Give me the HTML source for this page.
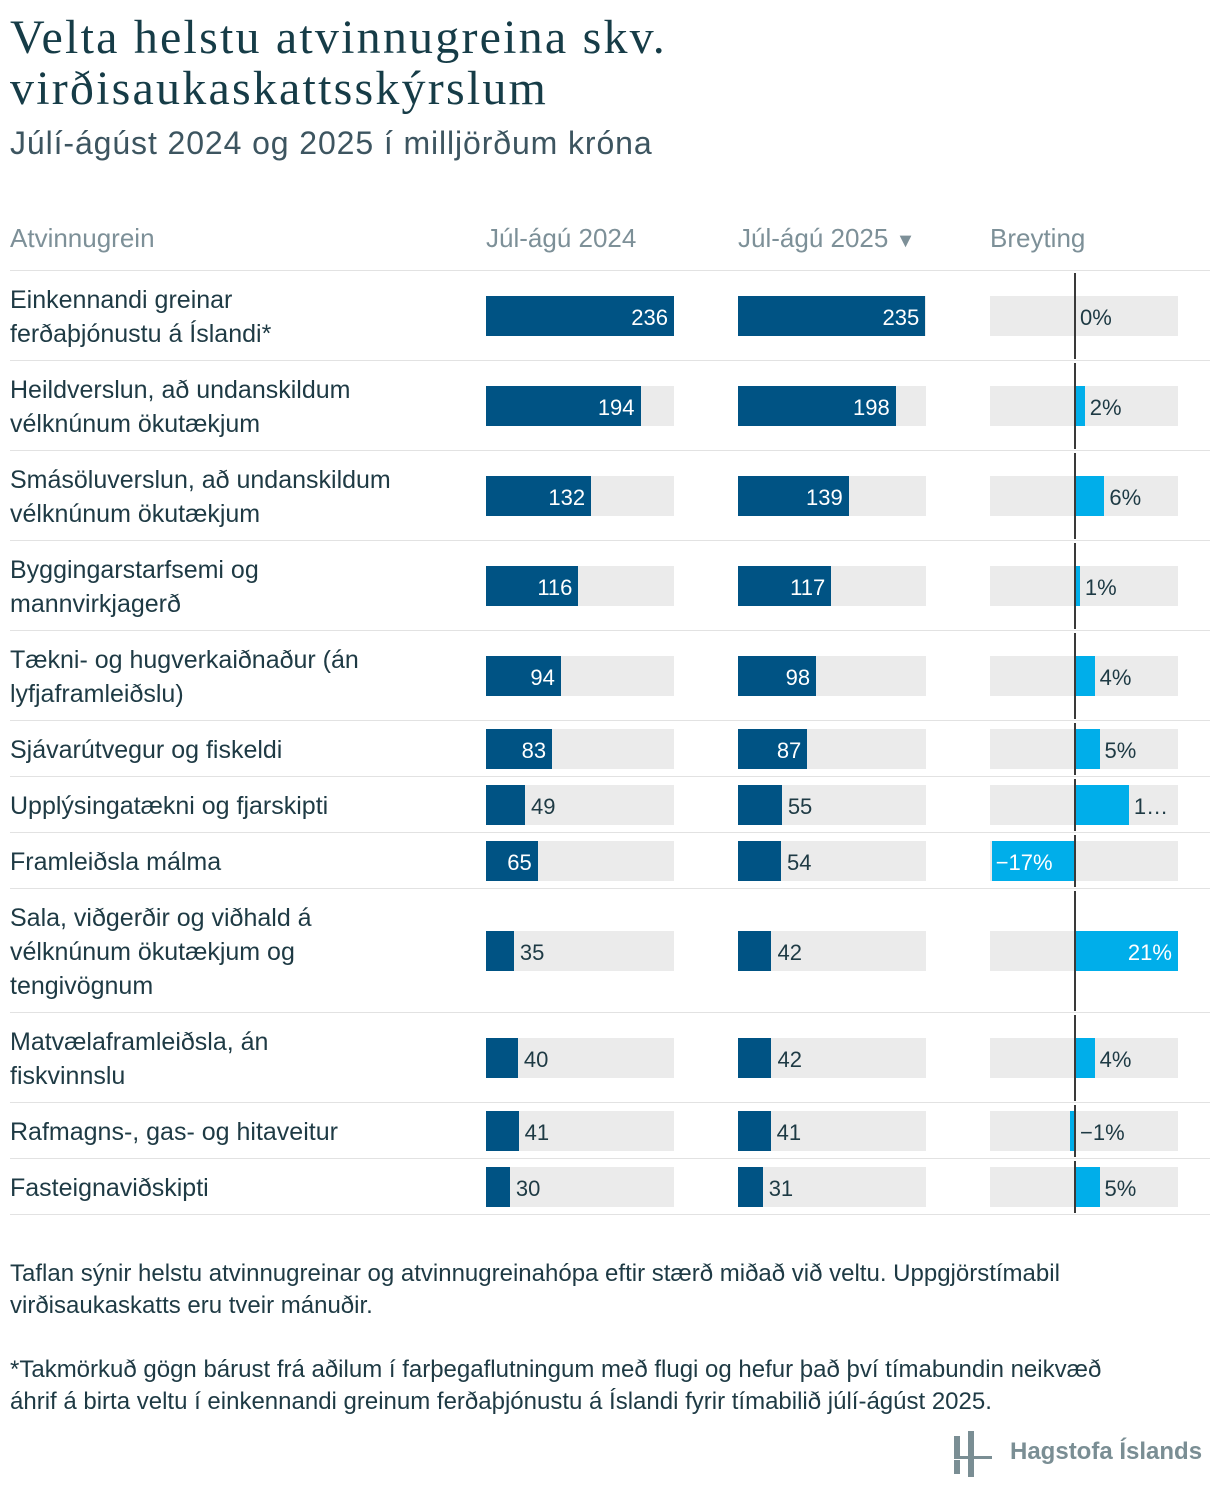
<!DOCTYPE html>
<html><head><meta charset="utf-8"><style>
body{margin:0;background:#fff;width:1220px;height:1502px;overflow:hidden;font-family:"Liberation Sans",sans-serif;color:#1e3a44;position:relative}
.abs{position:absolute}
h1{position:absolute;left:10px;top:12px;margin:0;font-family:"Liberation Serif",serif;font-weight:normal;font-size:48px;line-height:51px;letter-spacing:2.2px;color:#163c47}
.sub{left:10px;top:125px;font-size:32px;color:#3d5560;letter-spacing:0.9px}
.hd{top:223px;font-size:26px;color:#7d9098}
.lbl{left:10px;font-size:25px;line-height:34px;color:#1e3a44;width:440px}
.val{font-size:22px;line-height:40px;margin-top:2px}
.foot{left:10px;font-size:24px;line-height:32px;width:1200px;color:#1e3a44;white-space:nowrap}
</style></head><body>
<h1>Velta helstu atvinnugreina skv.<br>virðisaukaskattsskýrslum</h1>
<div class="abs sub">Júlí-ágúst 2024 og 2025 í milljörðum króna</div>
<div class="abs hd" style="left:10px">Atvinnugrein</div>
<div class="abs hd" style="left:486px">Júl-ágú 2024</div>
<div class="abs hd" style="left:738px">Júl-ágú 2025 <span style="font-size:20px">▼</span></div>
<div class="abs hd" style="left:990px">Breyting</div>
<div class="abs" style="left:10px;top:270px;width:1200px;height:1px;background:#e2e2e2"></div>
<div id="rows"></div>
<div class="abs foot" style="top:1258px">Taflan sýnir helstu atvinnugreinar og atvinnugreinahópa eftir stærð miðað við veltu. Uppgjörstímabil<br>virðisaukaskatts eru tveir mánuðir.</div>
<div class="abs foot" style="top:1354px">*Takmörkuð gögn bárust frá aðilum í farþegaflutningum með flugi og hefur það því tímabundin neikvæð<br>áhrif á birta veltu í einkennandi greinum ferðaþjónustu á Íslandi fyrir tímabilið júlí-ágúst 2025.</div>
<div class="abs" style="left:952px;top:1426px;width:42px;height:52px">
<div class="abs" style="left:2px;top:10px;width:6px;height:20px;background:#7a8e94"></div>
<div class="abs" style="left:2px;top:34px;width:6px;height:14px;background:#7a8e94"></div>
<div class="abs" style="left:16px;top:5px;width:6px;height:46px;background:#7a8e94"></div>
<div class="abs" style="left:2px;top:30px;width:38px;height:3px;background:#7a8e94"></div>
</div>
<div class="abs" style="left:1010px;top:1438px;font-size:24px;font-weight:bold;color:#7a8e94">Hagstofa Íslands</div>
<script>
const categories=["Einkennandi greinar<br>ferðaþjónustu á Íslandi*","Heildverslun, að undanskildum<br>vélknúnum ökutækjum","Smásöluverslun, að undanskildum<br>vélknúnum ökutækjum","Byggingarstarfsemi og<br>mannvirkjagerð","Tækni- og hugverkaiðnaður (án<br>lyfjaframleiðslu)","Sjávarútvegur og fiskeldi","Upplýsingatækni og fjarskipti","Framleiðsla málma","Sala, viðgerðir og viðhald á<br>vélknúnum ökutækjum og<br>tengivögnum","Matvælaframleiðsla, án<br>fiskvinnslu","Rafmagns-, gas- og hitaveitur","Fasteignaviðskipti"];
const values2024=[236,194,132,116,94,83,49,65,35,40,41,30];
const values2025=[235,198,139,117,98,87,55,54,42,42,41,31];
const changePct=[0,2,6,1,4,5,11,-17,21,4,-1,5];
const rowHeights=[90,90,90,90,90,56,56,56,124,90,56,56];
const root=document.getElementById('rows');
const W=188,maxV=236;
const x=v=>v/maxV*W;
const pp=4.9, zeroX=1075;
function div(css,html){const d=document.createElement('div');d.className='abs';d.style.cssText=css;if(html!==undefined)d.innerHTML=html;root.appendChild(d);return d;}
let y=271;
categories.forEach((c,i)=>{
  const h=rowHeights[i], cy=y+h/2, bt=cy-20;
  const lines=c.split('<br>').length;
  const l=div(`top:${cy-lines*17+1}px`,c);l.className='abs lbl';
  
  
  [[486,values2024[i],'bar-2024'],[738,values2025[i],'bar-2025']].forEach(([x0,v,nm])=>{
    const bg=div(`left:${x0}px;top:${bt}px;width:${W}px;height:40px;background:#ebebeb`);
    
    
    const w=x(v);
    const b=div(`left:${x0}px;top:${bt}px;width:${w}px;height:40px;background:#005384`);
    
    
    const inside=w>50;
    const t=div(inside?`left:${x0}px;width:${w-6}px;top:${bt}px;text-align:right;color:#fff`:`left:${x0+w+6}px;top:${bt}px;color:#1e3a44`,String(v));
    t.classList.add('val');
    
    
  });
  const bg=div(`left:990px;top:${bt}px;width:188px;height:40px;background:#ebebeb`);
  
  
  const p=changePct[i], w=Math.abs(p)*pp, lx=p>=0?zeroX:zeroX-w;
  const cb=div(`left:${lx}px;top:${bt}px;width:${Math.max(w,p!==0?4:0)}px;height:40px;background:#00aeea`);
  
  
  const txt=(p<0?'−':'')+Math.abs(p)+'%';
  let css,label=txt;
  if(w>60){css=p>=0?`left:${zeroX}px;width:${w-6}px;text-align:right;color:#fff`:`left:${lx+4}px;color:#fff`;}
  else{css=`left:${zeroX+Math.max(w,0)+5}px;color:#1e3a44`;if(p<0)css=`left:${zeroX+5}px;color:#1e3a44`;if(zeroX+w+50>1178)label='1…';}
  const ct=div(css+`;top:${bt}px`,label);ct.classList.add('val');
  
  
  const z=div(`left:${zeroX-1}px;top:${y+2}px;width:2px;height:${h-4}px;background:#3a3a3a`);
  
  
  y+=h;
  const s=div(`left:10px;top:${y-1}px;width:1200px;height:1px;background:#e2e2e2`);
  
  
});
</script>
</body></html>
